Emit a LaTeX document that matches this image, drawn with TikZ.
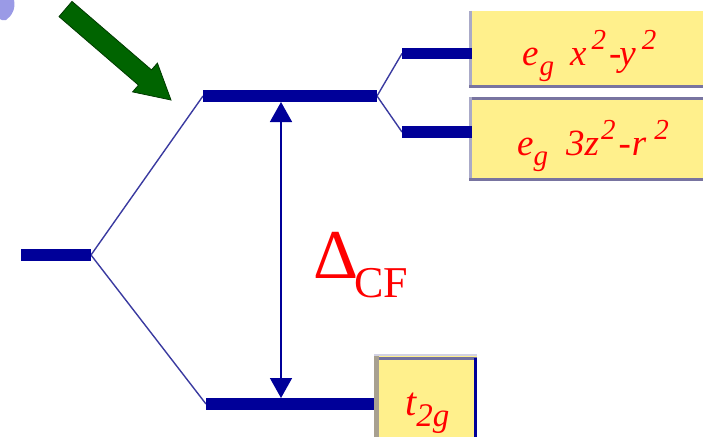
\documentclass[tikz,border=0pt]{standalone}
\usepackage{fontspec}
\setmainfont{Liberation Serif}
\usetikzlibrary{arrows.meta}
\definecolor{lvl}{HTML}{000099}
\definecolor{thin}{HTML}{3A3AA0}
\definecolor{boxfill}{HTML}{FFF08C}
\definecolor{gr}{HTML}{006400}
\definecolor{grd}{HTML}{003A00}
\definecolor{lav}{HTML}{9A9AE6}
\newcommand\mysz{\fontsize{37}{37}\selectfont}
\newcommand\myscr{\fontsize{29}{29}\selectfont}
\newcommand\mysub[1]{\raisebox{-10pt}{\myscr #1}}
\newcommand\mysup[1]{\raisebox{16pt}{\myscr #1}}
\tikzset{
  level/.style={line width=11.5pt, color=lvl},
  split/.style={line width=1.4pt, color=thin},
  lbl/.style={text=red, font=\itshape\mysz, inner sep=0pt},
}
\begin{document}
\begin{tikzpicture}[x=1pt,y=-1pt]
\useasboundingbox (0,0) rectangle (703,436);
\clip (0,0) rectangle (703,436);
% lavender blob (cut off)
\fill[lav] (0,0) -- (14,0) .. controls (16,8) and (12,16) .. (6,20) .. controls (3,21) and (1,20) .. (0,19) -- cycle;
% boxes
\fill[boxfill] (469,11) rectangle (710,88);
\draw[line width=3pt, color={rgb,255:red,170;green,170;blue,200}] (470.5,11) -- (470.5,88);
\draw[line width=3pt, color={rgb,255:red,120;green,116;blue,160}] (469,86.5) -- (710,86.5);
\fill[boxfill] (469,97) rectangle (710,181);
\draw[line width=3pt, color={rgb,255:red,120;green,116;blue,160}] (469,98.5) -- (710,98.5);
\draw[line width=3pt, color={rgb,255:red,170;green,170;blue,200}] (470.5,97) -- (470.5,181);
\draw[line width=3pt, color={rgb,255:red,120;green,116;blue,160}] (469,179.5) -- (710,179.5);
\fill[boxfill] (374,355) rectangle (477,440);
\draw[line width=2pt, color={rgb,255:red,210;green,210;blue,228}] (374,355) -- (477,355);
\draw[line width=3pt, color={rgb,255:red,112;green,112;blue,160}] (376,358.5) -- (477,358.5);
\draw[line width=5pt, color={rgb,255:red,168;green,160;blue,144}] (376.5,356) -- (376.5,440);
\draw[line width=3pt, color=lvl] (475.5,358) -- (475.5,440);
% level coordinates
\coordinate (L1) at (21,255);
\coordinate (L2) at (91,255);
\coordinate (E1) at (203,96);
\coordinate (E2) at (377,96);
\coordinate (T1) at (206,404);
\coordinate (T2) at (374,404);
\coordinate (A1) at (402,53.5);
\coordinate (A2) at (472,53.5);
\coordinate (B1) at (402,132);
\coordinate (B2) at (472,132);
% connectors
\draw[split] (L2) -- (E1);
\draw[split] (L2) -- (T1);
\draw[split] (E2) -- (A1);
\draw[split] (E2) -- (B1);
% levels
\draw[level] (L1) -- (L2);
\draw[level] (E1) -- (E2);
\draw[level] (T1) -- (T2);
\draw[level] (A1) -- (A2);
\draw[level] (B1) -- (B2);
% Delta arrow
\coordinate (D1) at (281,102);
\coordinate (D2) at (281,398);
\draw[line width=1.6pt, color=lvl, {Triangle[width=22pt,length=20pt]}-{Triangle[width=22pt,length=20pt]}] (D1) -- (D2);
\node[text=red, anchor=base west, inner sep=0pt] (delta) at (313,278) {\fontsize{70}{70}\selectfont\char"0394};
\node[text=red, anchor=base west, inner sep=0pt] (cf) at (354,297) {\fontsize{44}{44}\selectfont CF};
% labels
\node[lbl, anchor=base west] (ex) at (522,65) {e\hspace{1pt}\mysub{g}\hspace{16pt}x\hspace{5pt}\mysup{2}\hspace{3pt}-\hspace{-2pt}y\hspace{6pt}\mysup{2}};
\node[lbl, anchor=base west] (ez) at (517,155) {e\mysub{g}\hspace{18pt}3z\hspace{2pt}\mysup{2}\hspace{3pt}-\hspace{1pt}r\hspace{8pt}\mysup{2}};
\node[lbl, anchor=base west, font=\itshape\fontsize{40}{40}\selectfont] (tg) at (405,415) {t\raisebox{-11pt}{\fontsize{33}{33}\selectfont 2g}};
% green arrow
\fill[gr, draw=grd, line width=0.8pt, line join=miter] (59,16.6) -- (72,1.4) -- (151.5,69.9) -- (157.4,63.1) -- (171,100) -- (132.6,91.9) -- (138.5,85.1) -- cycle;
\end{tikzpicture}
\end{document}
